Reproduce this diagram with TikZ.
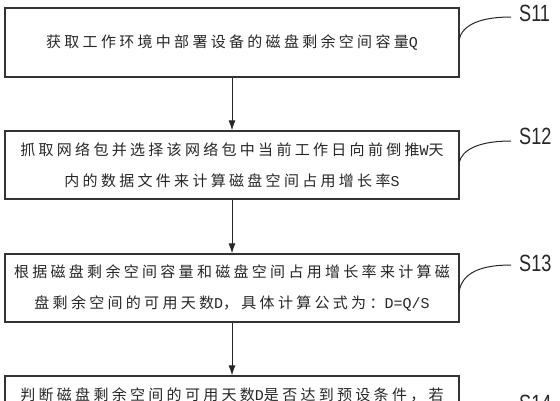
\documentclass[tikz,border=0pt]{standalone}
\usepackage{fontspec}
\usetikzlibrary{arrows.meta}
\newfontfamily\cjk[LetterSpace=22]{Noto Sans CJK SC}
\newfontfamily\lat{Liberation Mono}
\newfontfamily\labfont[FakeStretch=0.77]{Liberation Sans}
\newcommand{\la}[1]{{\lat #1}}
\tikzset{
  stepbox/.style={draw=black!80, line width=1.3pt, minimum width=454pt, inner sep=0pt,
    align=center, font=\cjk\fontsize{15pt}{31.5pt}\selectfont, text=black!85},
  flowarrow/.style={draw=black!85, line width=0.9pt, -{Latex[length=10pt,width=7pt]}},
  leader/.style={draw=black!85, line width=1pt},
  steplabel/.style={anchor=west, inner sep=0pt, font=\labfont\fontsize{23.5pt}{23.5pt}\selectfont, text=black!85}
}
\begin{document}
\begin{tikzpicture}[x=1pt,y=-1pt]
\useasboundingbox (0,0) rectangle (560,400);
\clip (0,0) rectangle (560,400);
\node[stepbox, minimum height=69pt] (b1) at (232,42.5) {获取工作环境中部署设备的磁盘剩余空间容量\la{Q}};
\node[stepbox, minimum height=68pt] (b2) at (232,165) {抓取网络包并选择该网络包中当前工作日向前倒推\la{W}天\\内的数据文件来计算磁盘空间占用增长率\la{S}};
\node[stepbox, minimum height=68pt] (b3) at (232,288) {根据磁盘剩余空间容量和磁盘空间占用增长率来计算磁\\盘剩余空间的可用天数\la{D}，具体计算公式为：\la{D=Q/S}};
\node[stepbox, minimum height=68pt] (b4) at (232,410) {判断磁盘剩余空间的可用天数\la{D}是否达到预设条件，若\\};
\draw[flowarrow] (b1) -- (b2);
\draw[flowarrow] (b2) -- (b3);
\draw[flowarrow] (b3) -- (b4);
\node[steplabel] (l1) at (519,13.5) {S11};
\node[steplabel] (l2) at (519,136.5) {S12};
\node[steplabel] (l3) at (519,263.5) {S13};
\node[steplabel] (l4) at (519,403.5) {S14};
\coordinate (c1) at (459,40);
\coordinate (c2) at (459,163);
\coordinate (c3) at (459,292);
\coordinate (c4) at (459,432);
\coordinate (e1) at (511,17);
\coordinate (e2) at (511,141);
\coordinate (e3) at (511,265);
\coordinate (e4) at (511,406);
\draw[leader] (c1) .. controls (462,25) and (480,17) .. (e1);
\draw[leader] (c2) .. controls (462,149) and (480,141) .. (e2);
\draw[leader] (c3) .. controls (462,273) and (480,265) .. (e3);
\draw[leader] (c4) .. controls (462,414) and (480,406) .. (e4);
\end{tikzpicture}
\end{document}
